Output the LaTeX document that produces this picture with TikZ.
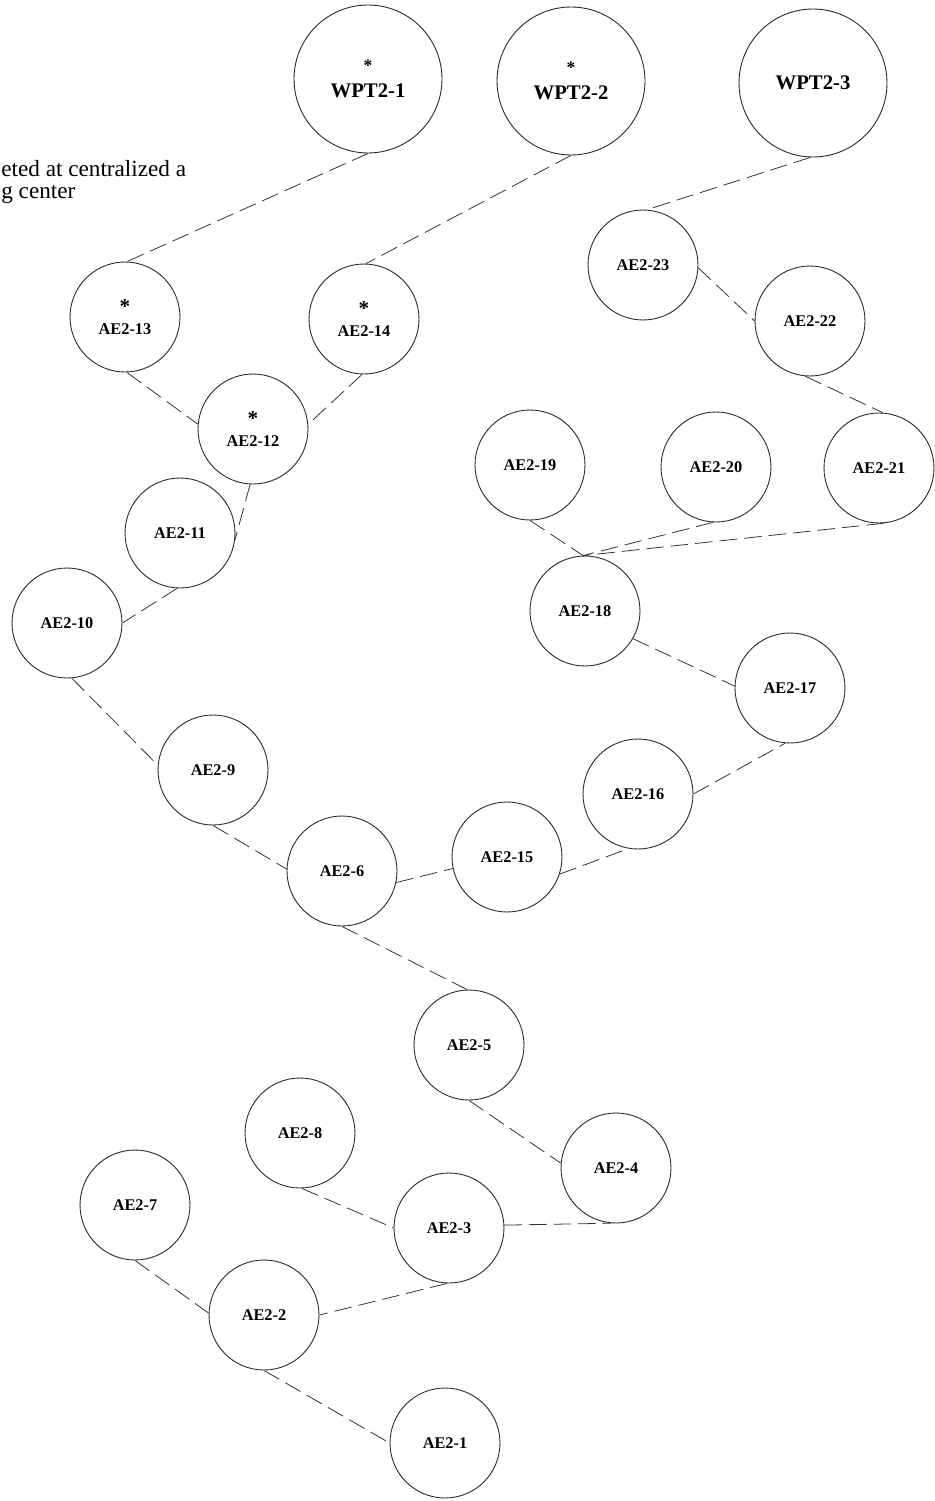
\documentclass[tikz,border=0pt]{standalone}
\usepackage{fontspec}
\setmainfont{Liberation Serif}
\begin{document}
\begin{tikzpicture}[x=0.02cm,y=-0.02cm,
 ae/.style={circle,draw=black!85,line width=0.5pt,minimum size=2.2cm,inner sep=0pt,
   font=\fontsize{9.3}{10}\selectfont\bfseries,align=center},
 wpt/.style={circle,draw=black!85,line width=0.5pt,minimum size=2.96cm,inner sep=0pt,
   font=\fontsize{11.8}{12}\selectfont\bfseries,align=center},
 link/.style={draw=black!80,line width=0.45pt,dash pattern=on 10pt off 4pt}]
\useasboundingbox (0,0) rectangle (934,1501);

\node[anchor=west,inner sep=0pt,align=left,font=\fontsize{13.2}{12.5}\selectfont] (note) at (1,182) {eted at centralized a\\g center};

\node[wpt] (wpt1) at (368,79) {{\fontsize{10}{10}\selectfont *}\\[3pt]WPT2-1};
\node[wpt] (wpt2) at (571,81) {{\fontsize{10}{10}\selectfont *}\\[3pt]WPT2-2};
\node[wpt] (wpt3) at (813,83) {WPT2-3};

\node[ae] (ae13) at (125,317) {{\fontsize{12}{12}\selectfont *}\\[2pt]AE2-13};
\node[ae] (ae14) at (364,319) {{\fontsize{12}{12}\selectfont *}\\[2pt]AE2-14};
\node[ae] (ae12) at (253,429) {{\fontsize{12}{12}\selectfont *}\\[2pt]AE2-12};
\node[ae] (ae11) at (180,533) {AE2-11};
\node[ae] (ae10) at (67,623) {AE2-10};
\node[ae] (ae9) at (213,770) {AE2-9};
\node[ae] (ae6) at (342,871) {AE2-6};
\node[ae] (ae15) at (507,857) {AE2-15};
\node[ae] (ae16) at (638,794) {AE2-16};
\node[ae] (ae17) at (790,688) {AE2-17};
\node[ae] (ae18) at (585,611) {AE2-18};
\node[ae] (ae19) at (530,465) {AE2-19};
\node[ae] (ae20) at (716,467) {AE2-20};
\node[ae] (ae21) at (879,468) {AE2-21};
\node[ae] (ae22) at (810,321) {AE2-22};
\node[ae] (ae23) at (643,265) {AE2-23};
\node[ae] (ae5) at (469,1045) {AE2-5};
\node[ae] (ae4) at (616,1168) {AE2-4};
\node[ae] (ae8) at (300,1133) {AE2-8};
\node[ae] (ae7) at (135,1205) {AE2-7};
\node[ae] (ae3) at (449,1228) {AE2-3};
\node[ae] (ae2) at (264,1315) {AE2-2};
\node[ae] (ae1) at (445,1443) {AE2-1};

\draw[link] (wpt1.-90) -- (ae13.88);
\draw[link] (wpt2.-90) -- (ae14.88);
\draw[link] (wpt3.-92) -- (ae23.86);
\draw[link] (ae13.-88) -- (ae12.175);
\draw[link] (ae14.-92) -- (ae12.5);
\draw[link] (ae12.-93) -- (ae11.-7);
\draw[link] (ae11.-93) -- (ae10.0);
\draw[link] (ae10.-85) -- (ae9.175);
\draw[link] (ae9.-90) -- (ae6.178);
\draw[link] (ae6.-12) -- (ae15.192);
\draw[link] (ae15.-18) -- (ae16.-100);
\draw[link] (ae16.0) -- (ae17.-95);
\draw[link] (ae18.-30) -- (ae17.178);
\draw[link] (ae19.-90) -- (ae18.92);
\draw[link] (ae20.-93) -- (ae18.92);
\draw[link] (ae21.-85) -- (ae18.92);
\draw[link] (ae22.-95) -- (ae21.86);
\draw[link] (ae23.-3) -- (ae22.180);
\draw[link] (ae6.-90) -- (ae5.92);
\draw[link] (ae5.-90) -- (ae4.175);
\draw[link] (ae3.3) -- (ae4.-95);
\draw[link] (ae8.-88) -- (ae3.180);
\draw[link] (ae3.-92) -- (ae2.0);
\draw[link] (ae7.-90) -- (ae2.178);
\draw[link] (ae2.-90) -- (ae1.180);
\end{tikzpicture}
\end{document}
